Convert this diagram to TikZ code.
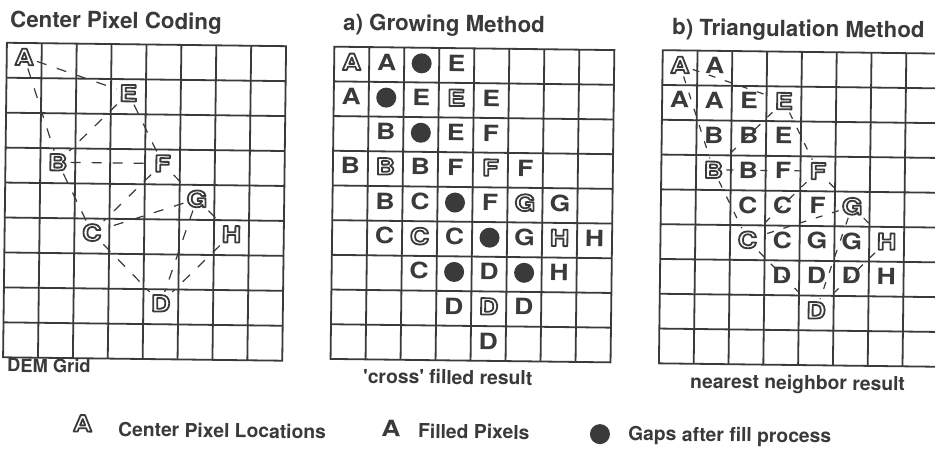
\documentclass[tikz,border=0pt]{standalone}
\usepackage{fontspec}
\newfontfamily\hv[Ligatures=TeXOff]{TeX Gyre Heros}
\newfontfamily\hvx[FakeStretch=1.18]{TeX Gyre Heros}
\definecolor{ink}{HTML}{3A3A3A}
\newcommand\holl[1]{{\color{white}\special{pdf:literal direct 2 Tr 1.8 w 1 j 0.227 0.227 0.227 RG}#1\special{pdf:literal direct 0 Tr}}}
\tikzset{
 gridline/.style={draw=ink, line width=1.8pt},
 fillnode/.style={font=\fontsize{22.5}{22}\selectfont\hvx\bfseries, text=ink, inner sep=0pt},
 holnode/.style={font=\fontsize{22.5}{22}\selectfont\hvx\bfseries, text=ink, inner sep=3pt},
 gapdot/.style={circle, fill=ink, minimum size=20pt, inner sep=0pt},
 tri/.style={draw=ink, line width=1.2pt, dash pattern=on 10pt off 11pt},
 trib/.style={draw=ink, line width=1.2pt, dash pattern=on 7pt off 10pt},
 ttl/.style={font=\fontsize{22.3}{26}\selectfont\hv\bfseries, text=ink, anchor=base west, inner sep=0pt},
 capt/.style={font=\fontsize{19.3}{22}\selectfont\hv\bfseries, text=ink, anchor=base west, inner sep=0pt},
}
\begin{document}
\begin{tikzpicture}[x=1pt,y=-1pt]
\useasboundingbox (0,0) rectangle (935,451);
\fill[white] (0,0) rectangle (935,451);
\clip (0,0) rectangle (935,451);
\begin{scope}[rotate around={-0.7:(467.5,225.5)}, transform shape]
% titles
\node[ttl] (t1) at (7.6,32.6) {Center Pixel Coding};
\node[ttl] (t2) at (340.6,31.8) {a) Growing Method};
\node[ttl] (t3) at (669.7,32.5) {b) Triangulation Method};
% captions
\node[capt, font=\fontsize{18.3}{22}\selectfont\hv\bfseries] (c1) at (8.8,377.6) {DEM Grid};
\node[capt] (c2) at (364.9,384.3) {'cross' filled result};
\node[capt] (c3) at (692,385.3) {nearest neighbor result};
% grid 1
\begin{scope}[shift={(4.7,48.4)}, x=34.9pt, y=-34.95pt]
 \draw[gridline] (0,0) rectangle (8,9);
 \foreach \i in {1,...,7} \draw[gridline] (\i,0) -- (\i,9);
 \foreach \j in {1,...,8} \draw[gridline] (0,\j) -- (8,\j);
 \foreach \c/\r/\t in {0/0/A,3/1/E,1/3/B,4/3/F,5/4/G,2/5/C,6/5/H,4/7/D}
  \node[holnode] (g1\t) at (\c+.5,\r+.4) {\holl{\t}};
 \foreach \a/\b in {A/E,A/B,E/B,E/F,B/F,B/C,F/C,F/G,G/C,G/H,G/D,H/D,C/D}
  \draw[tri] (g1\a) -- (g1\b);
\end{scope}
% grid 2
\begin{scope}[shift={(332.2,48.3)}, x=35pt, y=-34.7pt]
 \draw[gridline] (0,0) rectangle (8,9);
 \foreach \i in {1,...,7} \draw[gridline] (\i,0) -- (\i,9);
 \foreach \j in {1,...,8} \draw[gridline] (0,\j) -- (8,\j);
 \foreach \c/\r/\t [count=\k] in {1/0/A,3/0/E,0/1/A,2/1/E,4/1/E,1/2/B,3/2/E,4/2/F,
   0/3/B,2/3/B,3/3/F,5/3/F,1/4/B,2/4/C,4/4/F,6/4/G,1/5/C,3/5/C,5/5/G,7/5/H,
   2/6/C,4/6/D,6/6/H,3/7/D,5/7/D,4/8/D}
  \node[fillnode] (g2f\k) at (\c+.5,\r+.43) {\t};
 \foreach \c/\r/\t in {0/0/A,3/1/E,1/3/B,4/3/F,5/4/G,2/5/C,6/5/H,4/7/D}
  \node[holnode] (g2\t) at (\c+.5,\r+.43) {\holl{\t}};
 \foreach \c/\r [count=\k] in {2/0,1/1,2/2,3/4,4/5,3/6,5/6}
  \node[gapdot] (g2d\k) at (\c+.5,\r+.45) {};
\end{scope}
% grid 3
\begin{scope}[shift={(660.6,47.8)}, x=34.8pt, y=-34.8pt]
 \draw[gridline] (0,0) rectangle (8,9);
 \foreach \i in {1,...,7} \draw[gridline] (\i,0) -- (\i,9);
 \foreach \j in {1,...,8} \draw[gridline] (0,\j) -- (8,\j);
 \foreach \c/\r/\t [count=\k] in {1/0/A,0/1/A,1/1/A,2/1/E,1/2/B,2/2/B,3/2/E,
   2/3/B,3/3/F,2/4/C,3/4/C,4/4/F,3/5/C,4/5/G,5/5/G,3/6/D,4/6/D,5/6/D,6/6/H}
  \node[fillnode] (g3f\k) at (\c+.5,\r+.42) {\t};
 \foreach \c/\r/\t in {0/0/A,3/1/E,1/3/B,4/3/F,5/4/G,2/5/C,6/5/H,4/7/D}
  \node[holnode] (g3\t) at (\c+.5,\r+.42) {\holl{\t}};
 \foreach \a/\b in {A/E,A/B,E/B,E/F,B/F,B/C,F/C,F/G,G/C,G/H,G/D,H/D,C/D}
  \draw[trib] (g3\a) -- (g3\b);
\end{scope}
% legend
\node[holnode, inner sep=0pt] (lA) at (85,428) {\holl{A}};
\node[capt] (lAt) at (120.6,440.5) {Center Pixel Locations};
\node[fillnode] (lF) at (393.5,429.5) {A};
\node[capt] (lFt) at (420.5,438.5) {Filled Pixels};
\node[gapdot] (lG) at (602.5,432.5) {};
\node[capt] (lGt) at (630.6,438.5) {Gaps after fill process};
\end{scope}
\end{tikzpicture}
\end{document}
